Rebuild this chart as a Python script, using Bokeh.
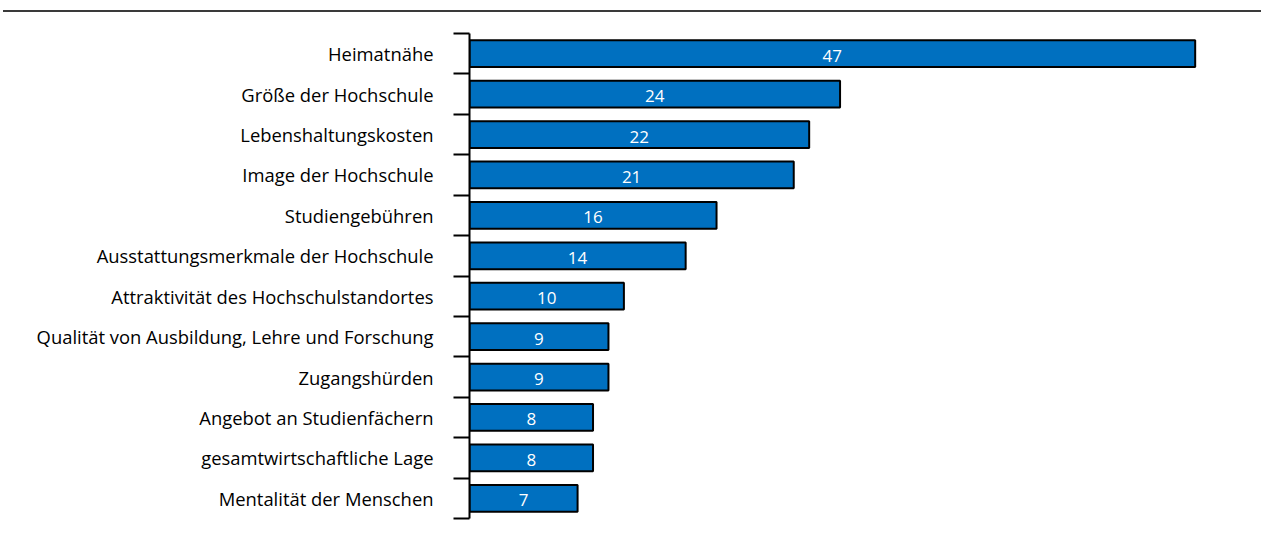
from bokeh.plotting import figure
from bokeh.models import Range1d, FixedTicker, ColumnDataSource, Div
from bokeh.layouts import column
from bokeh.core.properties import value
from bokeh.embed import file_html
from bokeh.resources import INLINE

categories = [
    "Heimatnähe",
    "Größe der Hochschule",
    "Lebenshaltungskosten",
    "Image der Hochschule",
    "Studiengebühren",
    "Ausstattungsmerkmale der Hochschule",
    "Attraktivität des Hochschulstandortes",
    "Qualität von Ausbildung, Lehre und Forschung",
    "Zugangshürden",
    "Angebot an Studienfächern",
    "gesamtwirtschaftliche Lage",
    "Mentalität der Menschen",
]
values = [47, 24, 22, 21, 16, 14, 10, 9, 9, 8, 8, 7]

n = len(categories)
ypos = [n - i - 0.5 for i in range(n)]
src = ColumnDataSource(dict(
    y=ypos,
    v=values,
    mid=[v / 2 for v in values],
    lab=[str(v) for v in values],
))

FONT = "Open Sans"

p = figure(width=1258, height=516, output_backend="svg", toolbar_location=None,
           x_range=Range1d(0, 50), y_range=Range1d(0, n),
           min_border_left=469, min_border_right=17, min_border_top=19, min_border_bottom=12)
p.outline_line_color = None
p.xgrid.visible = False
p.ygrid.visible = False
p.xaxis.visible = False

p.hbar(y="y", left=0, right="v", height=0.66, source=src,
       fill_color="#0070C0", line_color="black", line_width=2)

p.text(x="mid", y="y", text="lab", source=src, text_color="white",
       text_align="center", text_baseline="middle", text_font_size="17px",
       text_font=value(FONT), y_offset=2)

yax = p.yaxis[0]
yax.ticker = FixedTicker(ticks=ypos, minor_ticks=list(range(n + 1)))
yax.major_label_overrides = {y: c for y, c in zip(ypos, categories)}
yax.major_tick_out = 0
yax.major_tick_in = 0
yax.minor_tick_out = 16
yax.minor_tick_in = 0
yax.minor_tick_line_color = "black"
yax.minor_tick_line_width = 2
yax.axis_line_color = "black"
yax.axis_line_width = 2
yax.major_label_standoff = 20
yax.major_label_text_font = FONT
yax.major_label_text_font_size = "18.4px"
yax.major_label_text_color = "black"

top_line = Div(text="", width=1258, height=2, margin=(10, 0, 2, 3),
               styles={"background-color": "#3a3a3a"})

layout = column(top_line, p, spacing=0)

open("out.html", "w").write(file_html(layout, INLINE))
